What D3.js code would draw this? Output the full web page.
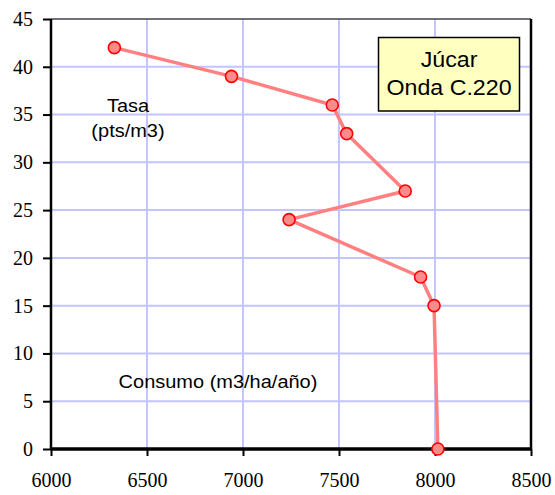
<!DOCTYPE html>
<html>
<head>
<meta charset="utf-8">
<script src="https://cdn.jsdelivr.net/npm/d3@7"></script>
<style>
  html, body { margin: 0; padding: 0; background: #fff; }
  svg { display: block; }
</style>
</head>
<body>
<svg id="chart" width="555" height="495"></svg>
<script>
// Consumption (m3/ha/año) against rate (pts/m3)
const consumo = [6330, 6940, 7465, 7540, 7845, 7240, 7925, 7995, 8015];
const tasa = [42, 39, 36, 33, 27, 24, 18, 15, 0];
const xTicks = [6000, 6500, 7000, 7500, 8000, 8500];
const yTicks = [0, 5, 10, 15, 20, 25, 30, 35, 40, 45];
const boxLines = ["Júcar", "Onda C.220"];
const yLabelLines = ["Tasa", "(pts/m3)"];
const xLabel = "Consumo (m3/ha/año)";

const svg = d3.select("#chart");
const plotL = 51, plotR = 531, plotT = 19, plotB = 449;

const x = d3.scaleLinear().domain([6000, 8500]).range([plotL, plotR]);
const y = d3.scaleLinear().domain([0, 45]).range([plotB, plotT]);

// gridlines
const grid = svg.append("g");
grid.selectAll("line.v").data(xTicks.slice(1, -1)).join("line")
  .attr("x1", d => x(d)).attr("x2", d => x(d))
  .attr("y1", plotT).attr("y2", plotB)
  .attr("stroke", "#c4c4ff").attr("stroke-width", 2);
grid.selectAll("line.h").data(yTicks.slice(1, -1)).join("line")
  .attr("x1", plotL).attr("x2", plotR)
  .attr("y1", d => y(d)).attr("y2", d => y(d))
  .attr("stroke", "#c4c4ff").attr("stroke-width", 2);

// plot frame
svg.append("line").attr("x1", plotL).attr("x2", plotR).attr("y1", plotT).attr("y2", plotT)
  .attr("stroke", "#404050").attr("stroke-width", 1.5);
svg.append("line").attr("x1", plotR).attr("x2", plotR).attr("y1", plotT).attr("y2", plotB)
  .attr("stroke", "#000").attr("stroke-width", 2.5);

// axes
const yAxis = svg.append("g").attr("transform", `translate(${plotL},0)`)
  .call(d3.axisLeft(y).tickValues(yTicks).tickSize(8).tickPadding(10).tickFormat(d3.format("d")));
const xAxis = svg.append("g").attr("transform", `translate(0,${plotB})`)
  .call(d3.axisBottom(x).tickValues(xTicks).tickSize(7).tickPadding(17).tickFormat(d3.format("d")));
[yAxis, xAxis].forEach(g => {
  g.attr("font-family", "Liberation Serif").attr("font-size", 20);
  g.select(".domain").attr("stroke", "#000");
  g.selectAll(".tick line").attr("stroke", "#000").attr("stroke-width", 2);
  g.selectAll(".tick text")
    .style("font-family", "'Liberation Serif'")
    .style("font-size", "20px")
    .attr("fill", "#000");
});
yAxis.select(".domain").attr("stroke-width", 2.5).attr("d", `M0,${plotT}V${plotB}`);
xAxis.select(".domain").attr("stroke-width", 3.5).attr("d", `M${plotL},0H${plotR}`);

// series line and markers
const pts = consumo.map((c, i) => [c, tasa[i]]);
svg.append("path").datum(pts)
  .attr("d", d3.line().x(d => x(d[0])).y(d => y(d[1])))
  .attr("fill", "none").attr("stroke", "#ff8080").attr("stroke-width", 3.5)
  .attr("stroke-linejoin", "round");
svg.selectAll("circle.pt").data(pts).join("circle")
  .attr("cx", d => x(d[0])).attr("cy", d => y(d[1])).attr("r", 6)
  .attr("fill", "#ff8a8a").attr("stroke", "#ff0000").attr("stroke-width", 1.6);

// annotations
const sans = "'Liberation Sans', Arial, sans-serif";
function stretchedText(cx, baseline, str, size) {
  svg.append("text")
    .attr("transform", `translate(${cx},${baseline}) scale(1.08,1)`)
    .attr("text-anchor", "middle").attr("font-family", sans)
    .attr("font-size", size).attr("fill", "#000").text(str);
}
yLabelLines.forEach((s, i) => stretchedText(128, 112 + i * 25, s, 18.5));
stretchedText(218, 388, xLabel, 18.5);

svg.append("rect").attr("x", 378.5).attr("y", 37.5).attr("width", 141).attr("height", 73.5)
  .attr("fill", "#ffffc0").attr("stroke", "#000").attr("stroke-width", 1.5);
boxLines.forEach((s, i) => stretchedText(449, 67 + i * 28, s, 21.5));
</script>
</body>
</html>
